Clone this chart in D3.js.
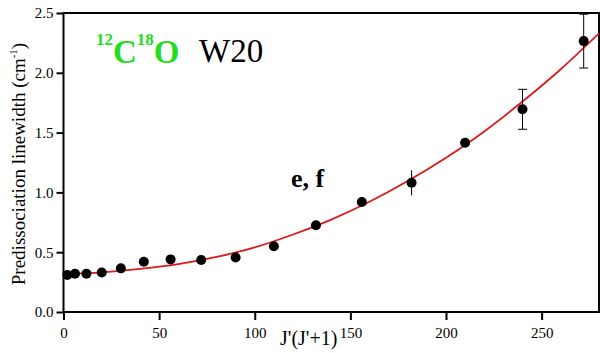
<!DOCTYPE html>
<html>
<head>
<script src="https://cdn.jsdelivr.net/npm/d3@7"></script>
<style>
  body { margin: 0; background: #fff; }
  svg text { font-family: "Liberation Serif", "Times New Roman", serif; }
</style>
</head>
<body>
<div id="chart"></div>
<script>
// measured points: J'(J'+1) vs linewidth
var jj = [2, 6, 12, 20, 30, 42, 56, 72, 90, 110, 132, 156, 182, 210, 240, 272];
var width = [0.31, 0.32, 0.32, 0.33, 0.365, 0.42, 0.44, 0.435, 0.455, 0.55, 0.725, 0.92, 1.08, 1.415, 1.695, 2.265];
var err = [0, 0, 0, 0, 0, 0, 0, 0, 0, 0, 0, 0, 0.105, 0, 0.167, 0.225];

// fitted curve
var fitX = [0, 20, 40, 60, 80, 100, 120, 140, 160, 180, 200, 220, 240, 260, 280];
var fitY = [0.318, 0.332, 0.36, 0.40, 0.46, 0.54, 0.648, 0.773, 0.922, 1.095, 1.29, 1.51, 1.76, 2.03, 2.33];

var xMajor = [0, 50, 100, 150, 200, 250];
var xMinor = d3.range(0, 281, 10);
var yMajor = [0.0, 0.5, 1.0, 1.5, 2.0, 2.5];
var yMinor = d3.range(0, 2.51, 0.25);

var W = 600, H = 353;
var svg = d3.select('#chart').append('svg').attr('width', W).attr('height', H);
svg.append('rect').attr('width', W).attr('height', H).attr('fill', '#fff');

var x = d3.scaleLinear().domain([0, 280]).range([63.5, 599]);
var y = d3.scaleLinear().domain([0, 2.5]).range([312, 13]);

// clip for the fit curve
svg.append('clipPath').attr('id', 'clip').append('rect')
  .attr('x', x(0)).attr('y', y(2.5)).attr('width', x(280) - x(0)).attr('height', y(0) - y(2.5));

// axes
var gx = svg.append('g').attr('transform', 'translate(0,' + y(0) + ')');
gx.call(d3.axisBottom(x).tickValues(xMinor).tickSize(4).tickFormat(''));
gx.call(d3.axisBottom(x).tickValues(xMajor).tickSize(8).tickPadding(7).tickFormat(d3.format('d')));
gx.selectAll('.domain').remove();
gx.selectAll('line').attr('stroke', '#000').attr('stroke-width', 2);
gx.selectAll('text').style('font-size', '15px').style('font-family', '"Liberation Serif", serif').attr('fill', '#000');

var gy = svg.append('g').attr('transform', 'translate(' + x(0) + ',0)');
gy.call(d3.axisLeft(y).tickValues(yMinor).tickSize(4).tickFormat(''));
gy.call(d3.axisLeft(y).tickValues(yMajor).tickSize(7).tickPadding(3).tickFormat(d3.format('.1f')));
gy.selectAll('.domain').remove();
gy.selectAll('line').attr('stroke', '#000').attr('stroke-width', 2);
gy.selectAll('text').style('font-size', '15px').style('font-family', '"Liberation Serif", serif').attr('fill', '#000');

// frame
svg.append('rect')
  .attr('x', x(0)).attr('y', y(2.5))
  .attr('width', x(280) - x(0)).attr('height', y(0) - y(2.5))
  .attr('fill', 'none').attr('stroke', '#000').attr('stroke-width', 2);

// fit line
var line = d3.line()
  .x(function(d, i) { return x(fitX[i]); })
  .y(function(d) { return y(d); })
  .curve(d3.curveMonotoneX);
svg.append('path').datum(fitY)
  .attr('d', line)
  .attr('clip-path', 'url(#clip)')
  .attr('fill', 'none').attr('stroke', '#dd1a1a').attr('stroke-width', 1.8);

// error bars
var eb = svg.append('g');
jj.forEach(function(v, i) {
  if (!err[i]) return;
  var cx = x(v);
  eb.append('line').attr('x1', cx).attr('x2', cx)
    .attr('y1', y(width[i] - err[i])).attr('y2', y(width[i] + err[i]))
    .attr('stroke', '#000').attr('stroke-width', 1);
  if (err[i] > 0.12) {
    [width[i] - err[i], width[i] + err[i]].forEach(function(e) {
      eb.append('line').attr('x1', cx - 4.5).attr('x2', cx + 4.5)
        .attr('y1', y(e)).attr('y2', y(e))
        .attr('stroke', '#000').attr('stroke-width', 1);
    });
  }
});

// points
svg.selectAll('circle.pt').data(jj).enter().append('circle')
  .attr('class', 'pt')
  .attr('cx', function(d) { return x(d); })
  .attr('cy', function(d, i) { return y(width[i]); })
  .attr('r', 5)
  .attr('fill', '#000');

// title
var t = svg.append('text').attr('x', 96).attr('y', 63)
  .attr('fill', '#22dd22').attr('font-weight', 'bold');
t.append('tspan').attr('font-size', 17).attr('dy', -18).text('12');
t.append('tspan').attr('font-size', 33).attr('dy', 18).text('C');
t.append('tspan').attr('font-size', 17).attr('dy', -18).text('18');
t.append('tspan').attr('font-size', 33).attr('dy', 18).text('O');

svg.append('text').attr('x', 199).attr('y', 62)
  .attr('font-size', 33).attr('fill', '#000').text('W20');

svg.append('text').attr('x', 291).attr('y', 187)
  .attr('font-size', 26).attr('font-weight', 'bold').attr('fill', '#000').text('e, f');

// axis titles
svg.append('text').attr('x', 280).attr('y', 345)
  .attr('font-size', 20).attr('fill', '#000').text("J'(J'+1)");

var yl = svg.append('text')
  .attr('transform', 'translate(25,164) rotate(-90)')
  .attr('text-anchor', 'middle')
  .attr('font-size', 19).attr('fill', '#000');
yl.append('tspan').text('Predissociation linewidth (cm');
yl.append('tspan').attr('font-size', 11).attr('dy', -8).text('-1');
yl.append('tspan').attr('dy', 8).text(')');
</script>
</body>
</html>
